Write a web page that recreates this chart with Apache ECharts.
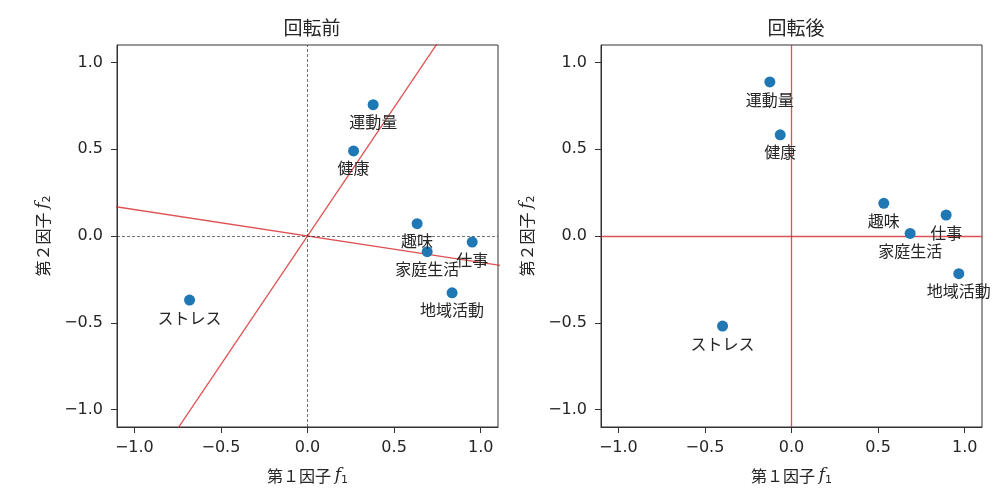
<!DOCTYPE html>
<html>
<head>
<meta charset="utf-8">
<script src="https://cdn.jsdelivr.net/npm/echarts@6/dist/echarts.min.js"></script>
<style>html,body{margin:0;padding:0;background:#fff;}#c{width:1006px;height:491px;}</style>
</head>
<body>
<div id="c"></div>
<script>
const categories = ['運動量','健康','趣味','家庭生活','仕事','地域活動','ストレス'];
const beforeF1 = [0.379, 0.266, 0.633, 0.691, 0.951, 0.835, -0.681];
const beforeF2 = [0.756, 0.490, 0.071, -0.090, -0.035, -0.327, -0.369];
const afterF1 = [-0.125, -0.065, 0.533, 0.685, 0.893, 0.966, -0.398];
const afterF2 = [0.887, 0.583, 0.188, 0.015, 0.121, -0.217, -0.519];
const tickValues = [-1.0, -0.5, 0.0, 0.5, 1.0];
const rotAxis1 = [[-0.8, -1.184], [0.8, 1.184]];
const rotAxis2 = [[-1.2, 0.183], [1.2, -0.183]];
const titles = ['回転前', '回転後'];

const JP = '"Noto Sans CJK JP", sans-serif';
const DV = '"DejaVu Sans", sans-serif';
const TXT = '#262626';
const RED = 'rgba(214,39,40,0.8)';

function pts(xs, ys) { return xs.map((x, i) => ({ name: categories[i], value: [x, ys[i]] })); }
const fmt = v => v.toFixed(1).replace('-', '\u2212');

function nameRich() {
  return { rich: {
    a: { fontFamily: JP, fontSize: 16, color: TXT },
    f: { fontFamily: '"DejaVu Serif", serif', fontStyle: 'italic', fontSize: 17, color: TXT },
    s: { fontFamily: DV, fontSize: 11, color: TXT, padding: [10, 0, 0, 0] }
  } };
}
function xAxisDef(gi) {
  return {
    gridIndex: gi, type: 'value', min: -1.1, max: 1.1,
    name: '{a|第１因子 }{f|f}{s|1}', nameLocation: 'middle', nameGap: 38,
    nameTextStyle: nameRich(),
    axisLine: { show: true, onZero: false, lineStyle: { color: '#333', width: 1 } },
    axisTick: { show: true, length: 6, customValues: tickValues, lineStyle: { color: '#333' } },
    axisLabel: { customValues: tickValues, formatter: fmt, fontFamily: DV, fontSize: 16, color: TXT, margin: 13 },
    splitLine: { show: false }
  };
}
function yAxisDef(gi) {
  return {
    gridIndex: gi, type: 'value', min: -1.1, max: 1.1,
    name: '{a|第２因子 }{f|f}{s|2}', nameLocation: 'middle', nameGap: 64, nameRotate: 90,
    nameTextStyle: nameRich(),
    axisLine: { show: true, onZero: false, lineStyle: { color: '#333', width: 1 } },
    axisTick: { show: true, length: 6, customValues: tickValues, lineStyle: { color: '#333' } },
    axisLabel: { customValues: tickValues, formatter: fmt, fontFamily: DV, fontSize: 16, color: TXT, margin: 14 },
    splitLine: { show: false }
  };
}
function scatterDef(gi, data, zeroStyle) {
  return {
    type: 'scatter', xAxisIndex: gi, yAxisIndex: gi, data: data, z: 5,
    symbolSize: 11, itemStyle: { color: '#1f77b4', opacity: 1 },
    label: { show: true, position: 'bottom', distance: 4, formatter: p => p.name,
      fontFamily: JP, fontSize: 16, color: TXT },
    labelLayout: { hideOverlap: false },
    markLine: { silent: true, symbol: 'none', label: { show: false }, animation: false,
      lineStyle: zeroStyle, data: [{ xAxis: 0 }, { yAxis: 0 }] }
  };
}
function lineDef(gi, data) {
  return { type: 'line', xAxisIndex: gi, yAxisIndex: gi, data: data, symbol: 'none', z: 3,
    clip: true, lineStyle: { color: RED, width: 1.3 }, animation: false };
}

const chart = echarts.init(document.getElementById('c'));
chart.setOption({
  animation: false,
  title: [
    { text: titles[0], left: 307, top: 13, textAlign: 'center', textStyle: { fontFamily: JP, fontSize: 19, fontWeight: 'normal', color: TXT } },
    { text: titles[1], left: 791, top: 13, textAlign: 'center', textStyle: { fontFamily: JP, fontSize: 19, fontWeight: 'normal', color: TXT } }
  ],
  grid: [
    { left: 117, top: 45, width: 381, height: 382, show: true, borderColor: '#333', borderWidth: 1, backgroundColor: 'transparent' },
    { left: 601, top: 45, width: 381, height: 382, show: true, borderColor: '#333', borderWidth: 1, backgroundColor: 'transparent' }
  ],
  xAxis: [xAxisDef(0), xAxisDef(1)],
  yAxis: [yAxisDef(0), yAxisDef(1)],
  series: [
    lineDef(0, rotAxis1),
    lineDef(0, rotAxis2),
    scatterDef(0, pts(beforeF1, beforeF2), { color: '#333', width: 0.7, type: [3, 2] }),
    scatterDef(1, pts(afterF1, afterF2), { color: RED, width: 1.3, type: 'solid' })
  ]
});
</script>
</body>
</html>
